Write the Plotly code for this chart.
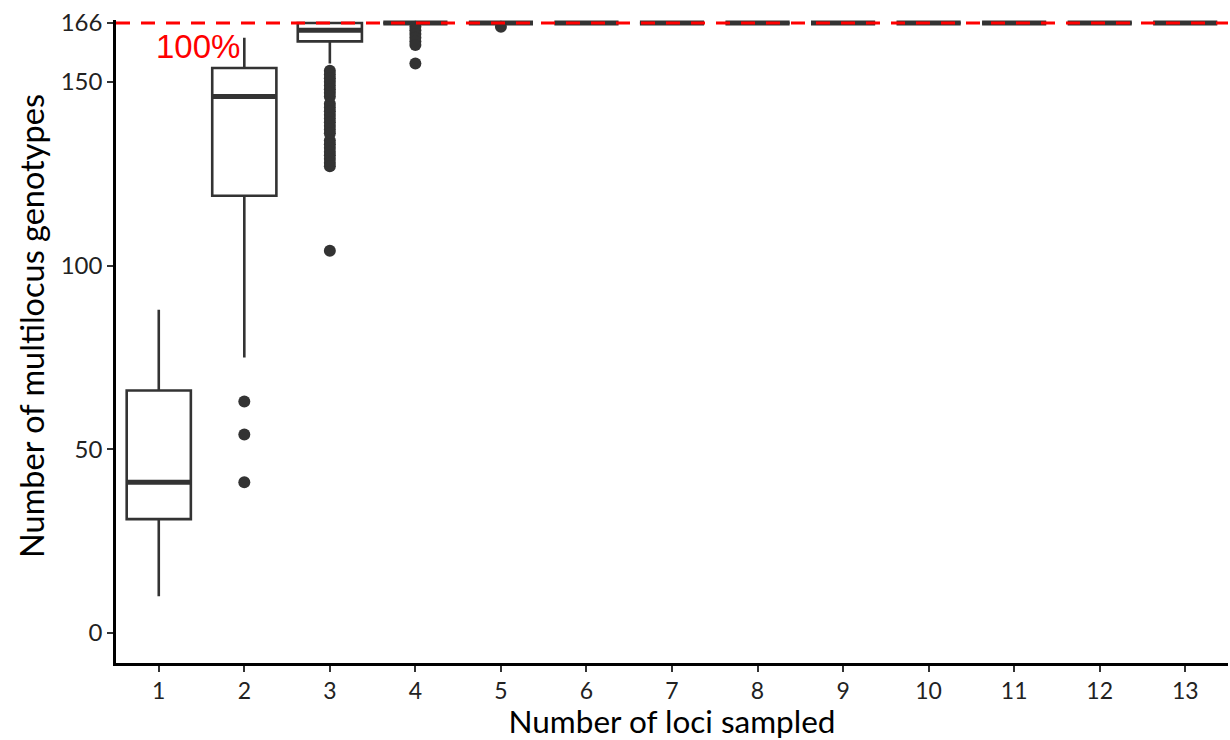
import plotly.graph_objects as go

# ---- data ----
loci = [1, 2, 3, 4, 5, 6, 7, 8, 9, 10, 11, 12, 13]
lower_whisker = [10, 75, 155, 166, 166, 166, 166, 166, 166, 166, 166, 166, 166]
q1 = [31, 119, 161, 166, 166, 166, 166, 166, 166, 166, 166, 166, 166]
median = [41, 146, 164, 166, 166, 166, 166, 166, 166, 166, 166, 166, 166]
q3 = [66, 153.75, 166, 166, 166, 166, 166, 166, 166, 166, 166, 166, 166]
upper_whisker = [88, 162, 166, 166, 166, 166, 166, 166, 166, 166, 166, 166, 166]

outliers_2 = [63, 54, 41]
outliers_3 = [153, 152, 151, 150, 149, 148, 147, 146, 144, 143, 142, 141, 140,
              139, 138, 137, 136, 134, 133, 132, 131, 130, 129, 128, 127, 104]
outliers_4 = [165, 164, 163, 162, 161, 160, 155]
outliers_5 = [165]

outlier_x = [2] * len(outliers_2) + [3] * len(outliers_3) + [4] * len(outliers_4) + [5] * len(outliers_5)
outlier_y = outliers_2 + outliers_3 + outliers_4 + outliers_5

total_genotypes = 166
y_ticks = [0, 50, 100, 150, 166]
box_width = 0.75

dark = "#333333"

fig = go.Figure()

fig.add_trace(go.Box(
    x=loci, q1=q1, median=median, q3=q3,
    lowerfence=lower_whisker, upperfence=upper_whisker,
    width=box_width, whiskerwidth=0,
    fillcolor="white",
    line=dict(color=dark, width=2.6),
    boxpoints=False,
    hoverinfo="skip",
    showlegend=False,
))

# thicker median bars (ggplot style)
mx, my = [], []
for xi, m in zip(loci, median):
    mx += [xi - box_width / 2, xi + box_width / 2, None]
    my += [m, m, None]
fig.add_trace(go.Scatter(x=mx, y=my, mode="lines",
                         line=dict(color=dark, width=5),
                         hoverinfo="skip", showlegend=False))

fig.add_trace(go.Scatter(x=outlier_x, y=outlier_y, mode="markers",
                         marker=dict(color=dark, size=12),
                         cliponaxis=False,
                         hoverinfo="skip", showlegend=False))

fig.add_shape(type="line", xref="paper", x0=0, x1=1,
              yref="y", y0=total_genotypes, y1=total_genotypes,
              line=dict(color="red", width=3, dash="14px,11px"),
              layer="above")

fig.add_annotation(x=1.46, y=159.6, xref="x", yref="y", text="100%",
                   showarrow=False,
                   font=dict(family="Liberation Sans", size=33, color="red"))

# y-axis title (placed slightly above the panel centre, as in the original)
fig.add_annotation(x=-0.0765, y=0.524, xref="paper", yref="paper",
                   text="Number of multilocus genotypes", textangle=-90,
                   showarrow=False, xanchor="center", yanchor="middle",
                   font=dict(family="Lato", size=32.5, color="black"))

fig.update_layout(
    width=1230, height=740,
    margin=dict(l=116, r=2, t=20, b=77),
    plot_bgcolor="white", paper_bgcolor="white",
    font=dict(family="Lato", color="black"),
)
fig.update_xaxes(
    range=[0.5, 13.5], tickvals=loci, ticktext=[str(v) for v in loci],
    showline=True, linecolor="black", linewidth=2.5,
    ticks="outside", ticklen=6, tickwidth=2, tickcolor="#333333",
    showgrid=False, zeroline=False,
    tickfont=dict(family="Lato", size=23, color="#222222"),
    title=dict(text="Number of loci sampled",
               font=dict(family="Lato", size=31.5, color="black"), standoff=6),
)
fig.update_yaxes(
    range=[-8.16, 166.82], tickvals=y_ticks, ticktext=[str(v) for v in y_ticks],
    showline=True, linecolor="black", linewidth=2.5,
    ticks="outside", ticklen=6, tickwidth=2, tickcolor="#333333",
    showgrid=False, zeroline=False,
    tickfont=dict(family="Lato", size=24, color="#222222"),
)

fig.write_html("out.html")
